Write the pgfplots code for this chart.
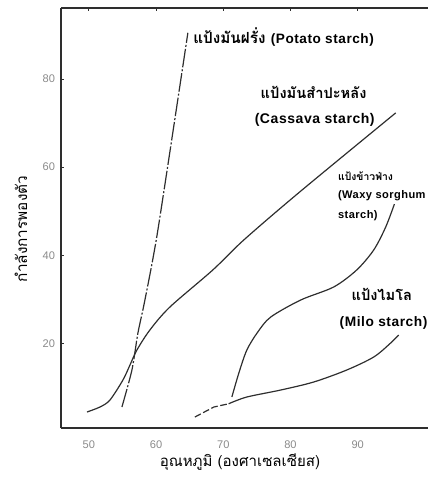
\documentclass[border=0pt]{standalone}
\usepackage{pgfplots}
\pgfplotsset{compat=1.18}
\usepackage{fontspec}
\setmainfont{Liberation Sans}
\newfontfamily\thai[Script=Thai]{Loma}
\newfontfamily\eng[LetterSpace=4]{Liberation Sans}
\definecolor{ink}{HTML}{2E2E2E}
\definecolor{tickgray}{HTML}{8A8A8A}
\begin{document}
\begin{tikzpicture}
\begin{axis}[
  scale only axis,
  width=275pt, height=315pt,
  xmin=45.87, xmax=100.4,
  ymin=0.8, ymax=96.1,
  axis x line=box, axis y line=left,
  axis line style={-, ink, line width=0.8pt},
  xtick={50,60,70,80,90}, ytick={20,40,60,80},
  tick align=inside, major tick length=2.5pt,
  tick style={ink, line width=0.5pt},
  xtick pos=upper, xticklabel pos=lower,
  ytick pos=left,
  /pgf/number format/assume math mode=true,
  ticklabel style={font=\fontsize{8.3}{10}\selectfont, text=tickgray},
  xticklabel style={yshift=-6pt},
  yticklabel style={xshift=-1pt},
  xlabel={\thai อุณหภูมิ (องศาเซลเซียส)},
  ylabel={\thai กำลังการพองตัว},
  every axis x label/.style={at={(axis description cs:0.488,0)}, anchor=center, yshift=-25.5pt, font=\fontsize{11.3}{13}\selectfont},
  every axis y label/.style={at={(axis description cs:-0.109,0.474)}, anchor=center, rotate=90, font=\fontsize{11.5}{13}\selectfont},
  clip=false,
]
% Potato starch (dash-dot)
\addplot[ink, line width=0.9pt, dash pattern=on 14pt off 1.5pt on 1.5pt off 1.5pt, smooth, tension=0.4] coordinates {
  (54.93,5.56) (56.42,13.96) (57.31,22.36) (58.35,29.85) (60.28,45.74) (64.74,90.47)
};
% Cassava starch
\addplot[ink, line width=0.9pt, smooth, tension=0.5] coordinates {
  (49.73,4.43) (51.66,5.56) (53.15,7.15) (55.08,11.69) (56.13,15.10) (57.16,18.50)
  (59.09,23.04) (62.07,28.26) (68.45,36.66) (73.06,43.47) (81.38,54.37) (95.65,72.30)
};
% Waxy sorghum starch
\addplot[ink, line width=0.9pt, smooth, tension=0.5] coordinates {
  (71.28,7.83) (72.32,13.28) (73.51,18.50) (75.14,22.59) (77.07,25.99) (81.53,29.85)
  (86.43,32.80) (89.85,36.66) (92.38,41.20) (94.16,46.40) (95.45,51.6)
};
% Milo starch (dashed start)
\addplot[ink, line width=0.9pt, dash pattern=on 5pt off 2pt] coordinates {
  (65.78,3.29) (68.60,5.56) (70.8,6.3)
};
\addplot[ink, line width=0.9pt, smooth, tension=0.5] coordinates {
  (70.8,6.3) (73.51,7.83) (78.56,9.42) (83.46,11.24) (88.37,13.96) (92.38,16.91) (94.90,20.09) (96.09,21.91)
};
% labels
\node[anchor=west, inner sep=0pt] at (axis description cs:0.360,0.931)
  {\bfseries\thai\fontsize{11.5}{13}\selectfont แป้งมันฝรั่ง\ \eng\bfseries\fontsize{10.2}{12}\selectfont(Potato starch)};
\node[anchor=center, inner sep=0pt] at (axis description cs:0.689,0.800)
  {\bfseries\thai\fontsize{11}{13}\selectfont แป้งมันสำปะหลัง};
\node[anchor=center, inner sep=0pt] at (axis description cs:0.692,0.733)
  {\eng\bfseries\fontsize{10.5}{12}\selectfont(Cassava starch)};
\node[anchor=west, inner sep=0pt] at (axis description cs:0.755,0.600)
  {\bfseries\thai\fontsize{7.8}{10}\selectfont แป้งข้าวฟ่าง};
\node[anchor=west, inner sep=0pt] at (axis description cs:0.755,0.554)
  {\eng\bfseries\fontsize{8.3}{10}\selectfont(Waxy sorghum};
\node[anchor=west, inner sep=0pt] at (axis description cs:0.755,0.505)
  {\eng\bfseries\fontsize{8.3}{10}\selectfont starch)};
\node[anchor=center, inner sep=0pt] at (axis description cs:0.875,0.317)
  {\bfseries\thai\fontsize{11}{13}\selectfont แป้งไมโล};
\node[anchor=east, inner sep=0pt] at (axis description cs:1,0.250)
  {\eng\bfseries\fontsize{10.3}{12}\selectfont(Milo starch)};
\end{axis}
\path (current axis.north west) ++(-45.75pt,6pt) -- ++(0,0);
\path (current axis.south west) ++(0,-36.75pt) -- ++(0,0);
\end{tikzpicture}
\end{document}
